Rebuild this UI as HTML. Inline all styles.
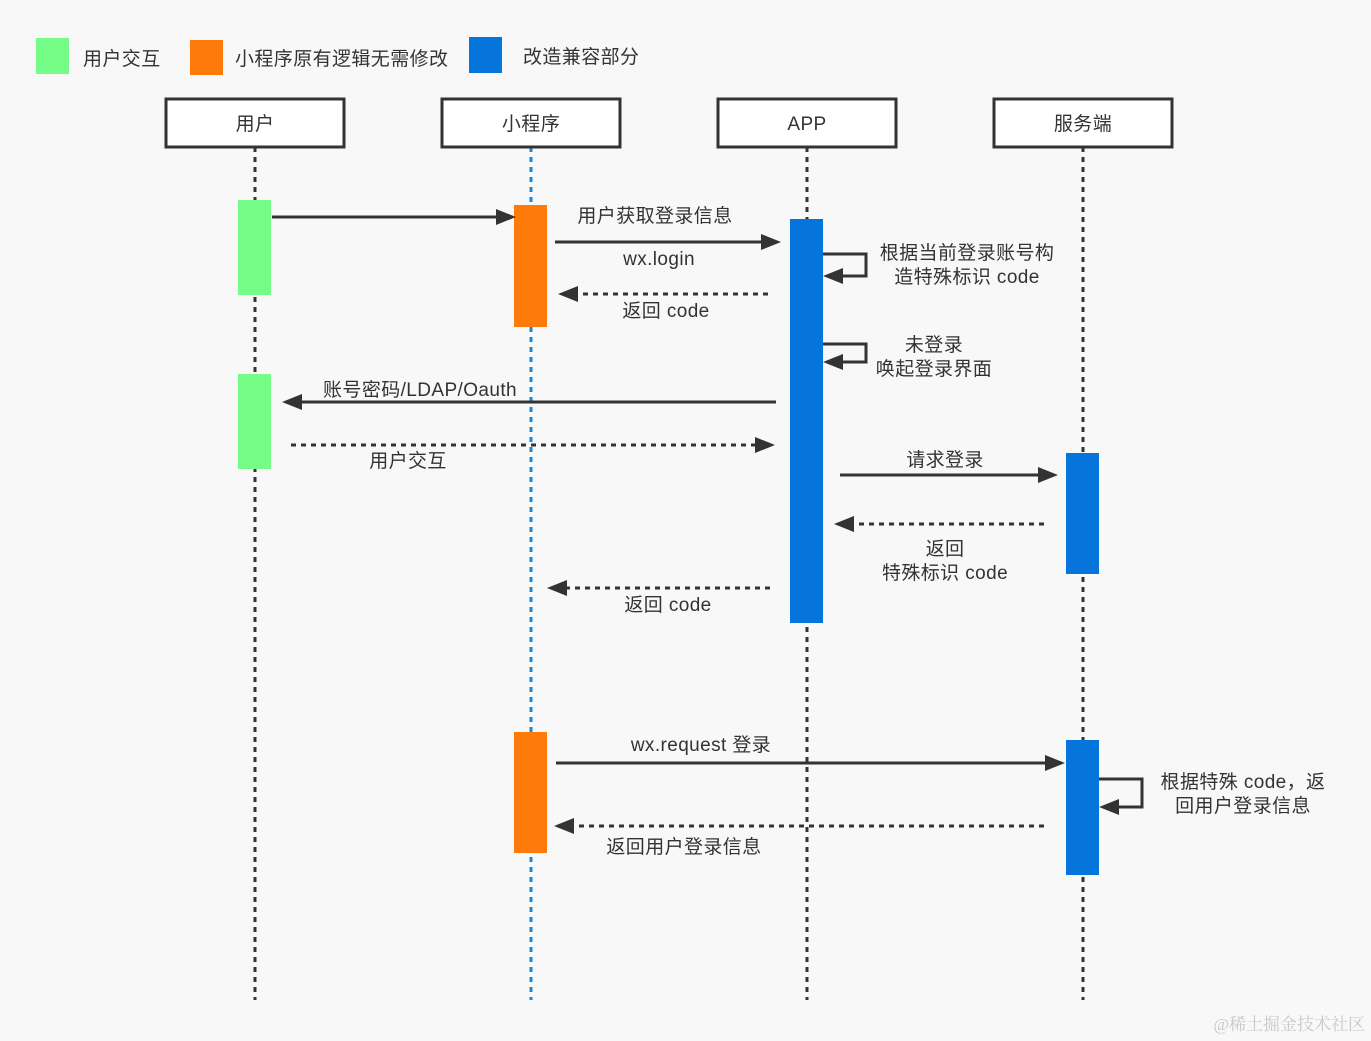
<!DOCTYPE html>
<html><head><meta charset="utf-8"><style>
html,body{margin:0;padding:0;background:#f8f8f8}
svg{display:block}
text{font-family:"Liberation Sans","Noto Sans CJK SC",sans-serif;fill:#333;font-size:19px;letter-spacing:0.4px}
</style></head><body>
<svg width="1371" height="1041" viewBox="0 0 1371 1041" xmlns="http://www.w3.org/2000/svg">
<rect width="1371" height="1041" fill="#f8f8f8"/>
<!-- legend -->
<rect x="36" y="38" width="33" height="36" fill="#75fc86"/>
<text x="83" y="65">用户交互</text>
<rect x="190" y="40" width="33" height="35" fill="#fd7a0b"/>
<text x="235" y="65">小程序原有逻辑无需修改</text>
<rect x="469" y="37" width="33" height="36" fill="#0575dc"/>
<text x="523" y="63">改造兼容部分</text>
<!-- lifelines -->
<g stroke-width="3" stroke-dasharray="5,5" fill="none">
<line x1="255" y1="147" x2="255" y2="1000" stroke="#333"/>
<line x1="531" y1="147" x2="531" y2="1000" stroke="#1a86d8"/>
<line x1="807" y1="147" x2="807" y2="1000" stroke="#333"/>
<line x1="1083" y1="147" x2="1083" y2="1000" stroke="#333"/>
</g>
<!-- headers -->
<g fill="#fff" stroke="#333" stroke-width="3">
<rect x="166" y="99" width="178" height="48"/>
<rect x="442" y="99" width="178" height="48"/>
<rect x="718" y="99" width="178" height="48"/>
<rect x="994" y="99" width="178" height="48"/>
</g>
<g text-anchor="middle">
<text x="255" y="130">用户</text>
<text x="531" y="130">小程序</text>
<text x="807" y="130">APP</text>
<text x="1083" y="130">服务端</text>
</g>
<!-- activations -->
<rect x="238" y="200" width="33" height="95" fill="#75fc86"/>
<rect x="238" y="374" width="33" height="95" fill="#75fc86"/>
<rect x="514" y="205" width="33" height="122" fill="#fd7a0b"/>
<rect x="514" y="732" width="33" height="121" fill="#fd7a0b"/>
<rect x="790" y="219" width="33" height="404" fill="#0575dc"/>
<rect x="1066" y="453" width="33" height="121" fill="#0575dc"/>
<rect x="1066" y="740" width="33" height="135" fill="#0575dc"/>
<!-- arrows -->
<g stroke="#333" stroke-width="3" fill="none">
<line x1="272" y1="217" x2="496" y2="217"/>
<line x1="555" y1="242" x2="762" y2="242"/>
<line x1="768" y1="294" x2="578" y2="294" stroke-dasharray="5,5"/>
<polyline points="823,254 866,254 866,276 842,276"/>
<polyline points="823,344 866,344 866,362 842,362"/>
<line x1="776" y1="402" x2="302" y2="402"/>
<line x1="291" y1="445" x2="756" y2="445" stroke-dasharray="5,5"/>
<line x1="840" y1="475" x2="1038" y2="475"/>
<line x1="1044" y1="524" x2="854" y2="524" stroke-dasharray="5,5"/>
<line x1="770" y1="588" x2="567" y2="588" stroke-dasharray="5,5"/>
<line x1="556" y1="763" x2="1045" y2="763"/>
<polyline points="1099,779 1142,779 1142,807 1118,807"/>
<line x1="1044" y1="826" x2="574" y2="826" stroke-dasharray="5,5"/>
</g>
<g fill="#333">
<polygon points="496,209 516,217 496,225"/>
<polygon points="761,234 781,242 761,250"/>
<polygon points="578,286 558,294 578,302"/>
<polygon points="843,268 823,276 843,284"/>
<polygon points="843,354 823,362 843,370"/>
<polygon points="302,394 282,402 302,410"/>
<polygon points="755,437 775,445 755,453"/>
<polygon points="1038,467 1058,475 1038,483"/>
<polygon points="854,516 834,524 854,532"/>
<polygon points="567,580 547,588 567,596"/>
<polygon points="1045,755 1065,763 1045,771"/>
<polygon points="1119,799 1099,807 1119,815"/>
<polygon points="574,818 554,826 574,834"/>
</g>
<!-- labels -->
<g text-anchor="middle">
<text x="655" y="222">用户获取登录信息</text>
<text x="659" y="265">wx.login</text>
<text x="666" y="317">返回 code</text>
<text x="967" y="259">根据当前登录账号构</text>
<text x="967" y="283">造特殊标识 code</text>
<text x="934" y="351">未登录</text>
<text x="934" y="375">唤起登录界面</text>
<text x="420" y="396">账号密码/LDAP/Oauth</text>
<text x="408" y="467">用户交互</text>
<text x="945" y="466">请求登录</text>
<text x="945" y="555">返回</text>
<text x="945" y="579">特殊标识 code</text>
<text x="668" y="611">返回 code</text>
<text x="701" y="751">wx.request 登录</text>
<text x="684" y="853">返回用户登录信息</text>
<text x="1243" y="788">根据特殊 code，返</text>
<text x="1243" y="812">回用户登录信息</text>
</g>
<text x="1365" y="1030" text-anchor="end" style="fill:#c8c8c8;font-size:17px;letter-spacing:0;font-family:'Liberation Serif','Noto Serif CJK SC',serif">@稀土掘金技术社区</text>
</svg>
</body></html>
